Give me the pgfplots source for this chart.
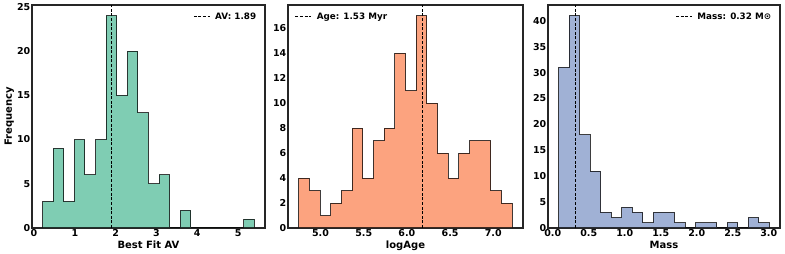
\documentclass[border=0pt]{standalone}
\usepackage{fontspec}
\setmainfont{DejaVu Sans}
\usepackage{pgfplots}
\pgfplotsset{compat=1.18}
\definecolor{cgreen}{HTML}{7FCDB3}
\definecolor{corange}{HTML}{FCA37F}
\definecolor{cblue}{HTML}{A0B1D5}
\definecolor{frame}{HTML}{262626}
\pgfplotsset{
  histax/.style={
    scale only axis, height=223pt, ymin=0,
    axis line style={line width=1.2pt, draw=frame},
    major tick length=0pt,
    /pgf/number format/assume math mode=true,
    tick label style={font=\fontsize{9.5}{10}\selectfont\bfseries, inner sep=1.5pt},
    label style={font=\fontsize{10}{11}\selectfont\bfseries},
    xlabel style={yshift=1pt},
    ylabel style={yshift=-2pt},
    legend style={draw=none, fill=none, font=\fontsize{8.8}{10}\selectfont\bfseries,
      inner sep=2pt, row sep=0pt,
      /tikz/every odd column/.append style={column sep=3pt}},
    legend image code/.code={\draw[#1] (0pt,0pt) -- (16pt,0pt);},
    legend cell align=left,
    clip=false,
  },
  hist/.style={const plot, draw=black, draw opacity=0.75, line width=1pt, forget plot},
  vl/.style={black, line width=0.9pt, dash pattern=on 3pt off 1.6pt},
}
\begin{document}
\begin{tikzpicture}
\useasboundingbox (0,0) rectangle (785pt,254pt);
% Panel 1
\begin{axis}[histax, at={(32pt,26pt)}, anchor=south west, width=233pt,
  xmin=-0.05, xmax=5.66, ymax=25.2,
  xtick={0,1,2,3,4,5}, ytick={0,5,10,15,20,25},
  xlabel={Best Fit AV}, ylabel={Frequency},
  legend style={at={(0.98,0.985)}, anchor=north east}]
\addplot[hist, fill=cgreen] coordinates {
(0.210,0) (0.210,3) (0.470,9) (0.729,3) (0.989,10) (1.248,6) (1.508,10) (1.767,24)
(2.027,15) (2.286,20) (2.546,13) (2.805,5) (3.065,6) (3.324,0) (3.584,2) (3.843,0)
(4.103,0) (4.362,0) (4.622,0) (4.881,0) (5.141,1) (5.400,1) (5.400,0)} --cycle;
\addplot[vl] coordinates {(1.89,0) (1.89,25.2)};
\addlegendentry{AV: 1.89}
\end{axis}
% Panel 2
\begin{axis}[histax, at={(288pt,26pt)}, anchor=south west, width=235pt,
  xmin=4.623, xmax=7.345, ymax=17.85,
  xtick={5.0,5.5,6.0,6.5,7.0}, ytick={0,2,4,6,8,10,12,14,16},
  xticklabel style={/pgf/number format/.cd, fixed, fixed zerofill, precision=1},
  xlabel={logAge},
  legend style={at={(0.02,0.985)}, anchor=north west}]
\addplot[hist, fill=corange] coordinates {
(4.747,0) (4.747,4) (4.871,3) (4.994,1) (5.118,2) (5.242,3) (5.366,8) (5.489,4)
(5.613,7) (5.737,8) (5.860,14) (5.984,11) (6.108,17) (6.231,10) (6.355,6) (6.479,4)
(6.603,6) (6.726,7) (6.850,7) (6.974,3) (7.097,2) (7.221,2) (7.221,0)} --cycle;
\addplot[vl] coordinates {(6.185,0) (6.185,17.85)};
\addlegendentry{Age: 1.53 Myr}
\end{axis}
% Panel 3
\begin{axis}[histax, at={(548pt,26pt)}, anchor=south west, width=232pt,
  xmin=-0.066, xmax=3.156, ymax=43.05,
  xtick={0,0.5,1.0,1.5,2.0,2.5,3.0}, ytick={0,5,10,15,20,25,30,35,40},
  xticklabel style={/pgf/number format/.cd, fixed, fixed zerofill, precision=1},
  xlabel={Mass},
  legend style={at={(0.98,0.985)}, anchor=north east}]
\addplot[hist, fill=cblue] coordinates {
(0.080,0) (0.080,31) (0.227,41) (0.373,18) (0.520,11) (0.666,3) (0.813,2) (0.959,4)
(1.106,3) (1.252,1) (1.399,3) (1.545,3) (1.692,1) (1.838,0) (1.985,1) (2.131,1)
(2.278,0) (2.424,1) (2.571,0) (2.717,2) (2.864,1) (3.010,1) (3.010,0)} --cycle;
\addplot[vl] coordinates {(0.32,0) (0.32,43.05)};
\addlegendentry{Mass: 0.32 M⊙}
\end{axis}
\end{tikzpicture}
\end{document}
